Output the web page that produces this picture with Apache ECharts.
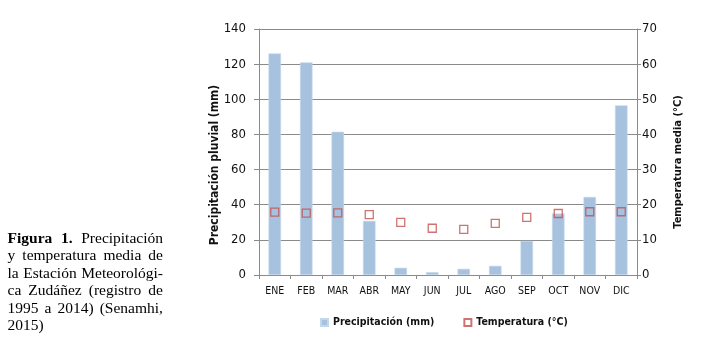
<!DOCTYPE html>
<html>
<head>
<meta charset="utf-8">
<script src="https://cdn.jsdelivr.net/npm/echarts@6/dist/echarts.min.js"></script>
<style>
  html, body { margin: 0; padding: 0; background: #fff; }
  #wrap { position: relative; width: 701px; height: 338px; overflow: hidden; }
  #chart { position: absolute; left: 0; top: 0; width: 701px; height: 338px; }
  #caption {
    position: absolute; left: 7.5px; top: 229px; width: 155.5px;
    font-family: 'Liberation Serif', 'Times New Roman', serif;
    font-size: 15.5px; line-height: 17.4px; color: #000;
  }
  #caption span { display: block; text-align: justify; text-align-last: justify; white-space: nowrap; }
  #caption span.last { text-align-last: left; }
</style>
</head>
<body>
<div id="wrap">
  <div id="chart"></div>
  <div id="caption">
    <span><b>Figura 1.</b> Precipitación</span>
    <span>y temperatura media de</span>
    <span>la Estación Meteorológi-</span>
    <span>ca Zudáñez (registro de</span>
    <span>1995 a 2014) (Senamhi,</span>
    <span class="last">2015)</span>
  </div>
</div>
<script>
const months = ['ENE','FEB','MAR','ABR','MAY','JUN','JUL','AGO','SEP','OCT','NOV','DIC'];
const precipitation = [126.1, 121.0, 81.5, 30.8, 4.1, 1.6, 3.5, 5.2, 19.4, 35.0, 44.4, 96.5];
const temperature = [17.9, 17.6, 17.7, 17.2, 15.0, 13.3, 13.0, 14.7, 16.4, 17.5, 18.0, 18.0];
const leftTicks = [0, 20, 40, 60, 80, 100, 120, 140];
const rightTicks = [0, 10, 20, 30, 40, 50, 60, 70];

const FONT = "'Liberation Sans Narrow', 'DejaVu Sans Condensed', 'Liberation Sans', sans-serif";
const chart = echarts.init(document.getElementById('chart'), null, { renderer: 'canvas' });
chart.setOption({
  animation: false,
  backgroundColor: '#fff',
  grid: { left: 259, right: 64, top: 29, bottom: 63, containLabel: false },
  legend: {
    left: 320, top: 317, padding: 0,
    itemWidth: 7, itemHeight: 7, itemGap: 29,
    textStyle: { fontFamily: FONT, fontSize: 10.5, fontWeight: 'bold', color: '#111' },
    data: [
      { name: 'Precipitación (mm)', icon: 'rect' },
      { name: 'Temperatura (°C)', icon: 'rect' }
    ]
  },
  xAxis: {
    type: 'category',
    data: months,
    boundaryGap: true,
    axisLine: { lineStyle: { color: '#8a8a8a', width: 1 } },
    axisTick: { show: true, length: 4, inside: false, lineStyle: { color: '#8a8a8a' }, alignWithLabel: false },
    axisLabel: { margin: 11, fontFamily: FONT, fontSize: 10.5, color: '#111' },
    splitLine: { show: false }
  },
  yAxis: [
    {
      type: 'value', min: leftTicks[0], max: leftTicks[leftTicks.length - 1], interval: 20,
      axisLine: { show: true, lineStyle: { color: '#8a8a8a' } },
      axisTick: { show: true, length: 5, lineStyle: { color: '#8a8a8a' } },
      axisLabel: { margin: 13, fontFamily: FONT, fontSize: 13, color: '#111' },
      splitLine: { show: true, lineStyle: { color: '#8a8a8a', width: 1 } }
    },
    {
      type: 'value', min: rightTicks[0], max: rightTicks[rightTicks.length - 1], interval: 10,
      position: 'right',
      axisLine: { show: true, lineStyle: { color: '#8a8a8a' } },
      axisTick: { show: true, length: 4, lineStyle: { color: '#8a8a8a' } },
      axisLabel: { margin: 5, fontFamily: FONT, fontSize: 13, color: '#111' },
      splitLine: { show: false }
    }
  ],
  graphic: [
    {
      type: 'text', x: 215, y: 165, rotation: Math.PI / 2,
      style: { text: 'Precipitación pluvial (mm)', fontFamily: FONT, fontSize: 12, fontWeight: 'bold', fill: '#111', align: 'center', verticalAlign: 'middle' }
    },
    {
      type: 'text', x: 678, y: 162, rotation: Math.PI / 2,
      style: { text: 'Temperatura media (°C)', fontFamily: FONT, fontSize: 11, fontWeight: 'bold', fill: '#111', align: 'center', verticalAlign: 'middle' }
    }
  ],
  series: [
    {
      name: 'Precipitación (mm)', type: 'bar', yAxisIndex: 0,
      data: precipitation, barWidth: 12.5,
      itemStyle: { color: '#a7c2df', borderColor: '#c4d6ea', borderWidth: 0.6 }
    },
    {
      name: 'Temperatura (°C)', type: 'scatter', yAxisIndex: 1,
      data: temperature, symbol: 'rect', symbolSize: 8, z: 5,
      itemStyle: { color: 'rgba(255,255,255,0)', borderColor: '#c0504d', borderWidth: 1.3 }
    }
  ]
});
</script>
</body>
</html>
